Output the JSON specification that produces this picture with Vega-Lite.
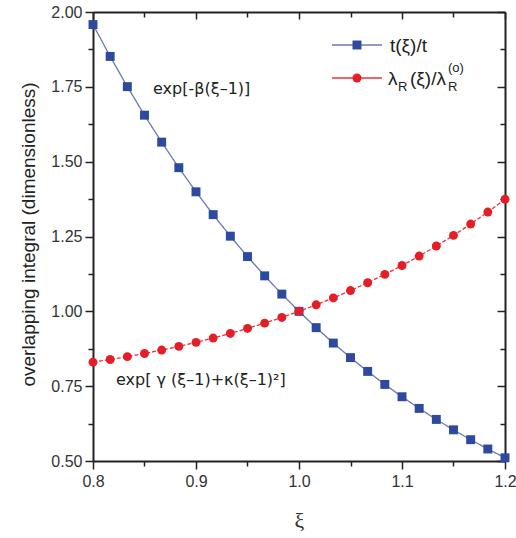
{
  "$schema": "https://vega.github.io/schema/vega-lite/v6.json",
  "width": 412,
  "height": 449,
  "autosize": {"type": "none"},
  "padding": {"left": 93, "top": 12, "right": 11, "bottom": 77},
  "background": "white",
  "config": {"view": {"stroke": null}, "font": "Liberation Sans"},
  "datasets": {
    "curves": [
      {"series": "t", "x": 0.8, "value": 1.958},
      {"series": "t", "x": 0.81667, "value": 1.8516},
      {"series": "t", "x": 0.83333, "value": 1.7507},
      {"series": "t", "x": 0.85, "value": 1.6553},
      {"series": "t", "x": 0.86667, "value": 1.5652},
      {"series": "t", "x": 0.88333, "value": 1.4799},
      {"series": "t", "x": 0.9, "value": 1.3993},
      {"series": "t", "x": 0.91667, "value": 1.3231},
      {"series": "t", "x": 0.93333, "value": 1.2511},
      {"series": "t", "x": 0.95, "value": 1.1829},
      {"series": "t", "x": 0.96667, "value": 1.1185},
      {"series": "t", "x": 0.98333, "value": 1.0576},
      {"series": "t", "x": 1.0, "value": 1.0},
      {"series": "t", "x": 1.01667, "value": 0.9455},
      {"series": "t", "x": 1.03333, "value": 0.894},
      {"series": "t", "x": 1.05, "value": 0.8454},
      {"series": "t", "x": 1.06667, "value": 0.7993},
      {"series": "t", "x": 1.08333, "value": 0.7558},
      {"series": "t", "x": 1.1, "value": 0.7146},
      {"series": "t", "x": 1.11667, "value": 0.6757},
      {"series": "t", "x": 1.13333, "value": 0.6389},
      {"series": "t", "x": 1.15, "value": 0.6041},
      {"series": "t", "x": 1.16667, "value": 0.5712},
      {"series": "t", "x": 1.18333, "value": 0.5401},
      {"series": "t", "x": 1.2, "value": 0.5107},
      {"series": "lam", "x": 0.8, "value": 0.8303},
      {"series": "lam", "x": 0.81667, "value": 0.839},
      {"series": "lam", "x": 0.83333, "value": 0.8486},
      {"series": "lam", "x": 0.85, "value": 0.8591},
      {"series": "lam", "x": 0.86667, "value": 0.8705},
      {"series": "lam", "x": 0.88333, "value": 0.8829},
      {"series": "lam", "x": 0.9, "value": 0.8963},
      {"series": "lam", "x": 0.91667, "value": 0.9107},
      {"series": "lam", "x": 0.93333, "value": 0.9262},
      {"series": "lam", "x": 0.95, "value": 0.9428},
      {"series": "lam", "x": 0.96667, "value": 0.9606},
      {"series": "lam", "x": 0.98333, "value": 0.9797},
      {"series": "lam", "x": 1.0, "value": 1.0},
      {"series": "lam", "x": 1.01667, "value": 1.0217},
      {"series": "lam", "x": 1.03333, "value": 1.0448},
      {"series": "lam", "x": 1.05, "value": 1.0694},
      {"series": "lam", "x": 1.06667, "value": 1.0956},
      {"series": "lam", "x": 1.08333, "value": 1.1235},
      {"series": "lam", "x": 1.1, "value": 1.1531},
      {"series": "lam", "x": 1.11667, "value": 1.1847},
      {"series": "lam", "x": 1.13333, "value": 1.2182},
      {"series": "lam", "x": 1.15, "value": 1.2537},
      {"series": "lam", "x": 1.16667, "value": 1.2915},
      {"series": "lam", "x": 1.18333, "value": 1.3317},
      {"series": "lam", "x": 1.2, "value": 1.3744}
    ],
    "legend": [
      {"series": "t", "x1": 1.032, "x2": 1.0806, "xm": 1.0563, "y": 1.8898},
      {"series": "lam", "x1": 1.032, "x2": 1.0806, "xm": 1.0563, "y": 1.7795}
    ],
    "legendText": [
      {"x": 1.0883, "y": 1.8864, "text": "t(ξ)/t"},
      {"x": 1.0864, "y": 1.7762, "text": "λ"},
      {"x": 1.1078, "y": 1.7762, "text": "(ξ)/λ"}
    ],
    "legendSmall": [
      {"x": 1.0962, "y": 1.7495, "text": "R"},
      {"x": 1.1447, "y": 1.7495, "text": "R"},
      {"x": 1.1447, "y": 1.8129, "text": "(o)"}
    ],
    "notes": [
      {"x": 0.8583, "y": 1.7428, "text": "exp[-β(ξ–1)]"},
      {"x": 0.8223, "y": 0.7706, "text": "exp[ γ (ξ–1)+κ(ξ–1)²]"}
    ]
  },
  "resolve": {"axis": {"x": "independent", "y": "independent"}},
  "layer": [
    {
      "data": {"name": "curves"},
      "mark": {"type": "line", "strokeWidth": 1.3},
      "encoding": {
        "x": {"field": "x", "type": "quantitative",
          "scale": {"domain": [0.8, 1.2], "nice": false, "zero": false},
          "axis": {"orient": "bottom", "values": [0.8, 0.85, 0.9, 0.95, 1.0, 1.05, 1.1, 1.15, 1.2],
            "labelExpr": "abs(datum.value*10 - round(datum.value*10)) < 0.001 ? format(datum.value, '.1f') : ''",
            "tickSize": {"condition": {"test": "abs(datum.value*10 - round(datum.value*10)) < 0.001", "value": 8}, "value": 5},
            "domainColor": "#222", "domainWidth": 2, "tickColor": "#222", "tickWidth": 1.5,
            "labelFontSize": 16, "labelColor": "#333", "labelPadding": 4, "labelFlush": false,
            "grid": false, "title": "ξ", "titleFont": "Liberation Serif", "titleFontSize": 22,
            "titleFontWeight": "normal", "titleColor": "#333", "titleBaseline": "alphabetic", "titleY": 66}},
        "y": {"field": "value", "type": "quantitative",
          "scale": {"domain": [0.5, 2.0], "nice": false, "zero": false},
          "axis": {"orient": "left", "values": [0.5, 0.625, 0.75, 0.875, 1.0, 1.125, 1.25, 1.375, 1.5, 1.625, 1.75, 1.875, 2.0],
            "labelExpr": "abs(datum.value*4 - round(datum.value*4)) < 0.001 ? format(datum.value, '.2f') : ''",
            "tickSize": {"condition": {"test": "abs(datum.value*4 - round(datum.value*4)) < 0.001", "value": 8}, "value": 5},
            "domainColor": "#222", "domainWidth": 2, "tickColor": "#222", "tickWidth": 1.5,
            "labelFontSize": 16, "labelColor": "#333", "labelPadding": 3, "labelFlush": false,
            "grid": false, "title": "overlapping integral (dimensionless)", "titleFontSize": 19,
            "titleFontWeight": "normal", "titleColor": "#222", "titleBaseline": "middle", "titleX": -65, "titleY": 222}},
        "stroke": {"field": "series", "type": "nominal", "scale": {"domain": ["t", "lam"], "range": ["#6a79b3", "#e8333a"]}, "legend": null},
        "strokeDash": {"field": "series", "type": "nominal", "scale": {"domain": ["t", "lam"], "range": [[1, 0], [4, 2]]}, "legend": null}
      }
    },
    {
      "data": {"name": "curves"},
      "mark": {"type": "point", "filled": true, "size": 80, "opacity": 1, "strokeWidth": 0},
      "encoding": {
        "x": {"field": "x", "type": "quantitative",
          "scale": {"domain": [0.8, 1.2], "nice": false, "zero": false},
          "axis": {"orient": "top", "values": [0.8, 0.85, 0.9, 0.95, 1.0, 1.05, 1.1, 1.15, 1.2],
            "labels": false, "title": null,
            "tickSize": {"condition": {"test": "abs(datum.value*10 - round(datum.value*10)) < 0.001", "value": -7}, "value": -5},
            "domainColor": "#222", "domainWidth": 2, "tickColor": "#222", "tickWidth": 1.5, "grid": false}},
        "y": {"field": "value", "type": "quantitative",
          "scale": {"domain": [0.5, 2.0], "nice": false, "zero": false},
          "axis": {"orient": "right", "values": [0.5, 0.625, 0.75, 0.875, 1.0, 1.125, 1.25, 1.375, 1.5, 1.625, 1.75, 1.875, 2.0],
            "labels": false, "title": null,
            "tickSize": {"condition": {"test": "abs(datum.value*4 - round(datum.value*4)) < 0.001", "value": -8}, "value": -5},
            "domainColor": "#222", "domainWidth": 2, "tickColor": "#222", "tickWidth": 1.5, "grid": false}},
        "fill": {"field": "series", "type": "nominal", "scale": {"domain": ["t", "lam"], "range": ["#2d4a9e", "#e41e26"]}, "legend": null},
        "shape": {"field": "series", "type": "nominal", "scale": {"domain": ["t", "lam"], "range": ["square", "circle"]}, "legend": null}
      }
    },
    {
      "data": {"name": "legend"},
      "mark": {"type": "rule", "strokeWidth": 1.3},
      "encoding": {
        "x": {"field": "x1", "type": "quantitative", "scale": {"domain": [0.8, 1.2], "nice": false, "zero": false}, "axis": null},
        "x2": {"field": "x2"},
        "y": {"field": "y", "type": "quantitative", "scale": {"domain": [0.5, 2.0], "nice": false, "zero": false}, "axis": null},
        "stroke": {"field": "series", "type": "nominal", "scale": {"domain": ["t", "lam"], "range": ["#6a79b3", "#e8333a"]}, "legend": null}
      }
    },
    {
      "data": {"name": "legend"},
      "mark": {"type": "point", "filled": true, "size": 80, "opacity": 1, "strokeWidth": 0},
      "encoding": {
        "x": {"field": "xm", "type": "quantitative", "scale": {"domain": [0.8, 1.2], "nice": false, "zero": false}, "axis": null},
        "y": {"field": "y", "type": "quantitative", "scale": {"domain": [0.5, 2.0], "nice": false, "zero": false}, "axis": null},
        "fill": {"field": "series", "type": "nominal", "scale": {"domain": ["t", "lam"], "range": ["#2d4a9e", "#e41e26"]}, "legend": null},
        "shape": {"field": "series", "type": "nominal", "scale": {"domain": ["t", "lam"], "range": ["square", "circle"]}, "legend": null}
      }
    },
    {
      "data": {"name": "legendText"},
      "mark": {"type": "text", "align": "left", "baseline": "middle", "fontSize": 19, "color": "#222"},
      "encoding": {
        "x": {"field": "x", "type": "quantitative", "scale": {"domain": [0.8, 1.2], "nice": false, "zero": false}, "axis": null},
        "y": {"field": "y", "type": "quantitative", "scale": {"domain": [0.5, 2.0], "nice": false, "zero": false}, "axis": null},
        "text": {"field": "text"}
      }
    },
    {
      "data": {"name": "legendSmall"},
      "mark": {"type": "text", "align": "left", "baseline": "middle", "fontSize": 13, "color": "#222"},
      "encoding": {
        "x": {"field": "x", "type": "quantitative", "scale": {"domain": [0.8, 1.2], "nice": false, "zero": false}, "axis": null},
        "y": {"field": "y", "type": "quantitative", "scale": {"domain": [0.5, 2.0], "nice": false, "zero": false}, "axis": null},
        "text": {"field": "text"}
      }
    },
    {
      "data": {"name": "notes"},
      "mark": {"type": "text", "align": "left", "baseline": "middle", "fontSize": 16, "font": "DejaVu Sans", "color": "#222"},
      "encoding": {
        "x": {"field": "x", "type": "quantitative", "scale": {"domain": [0.8, 1.2], "nice": false, "zero": false}, "axis": null},
        "y": {"field": "y", "type": "quantitative", "scale": {"domain": [0.5, 2.0], "nice": false, "zero": false}, "axis": null},
        "text": {"field": "text"}
      }
    }
  ]
}
